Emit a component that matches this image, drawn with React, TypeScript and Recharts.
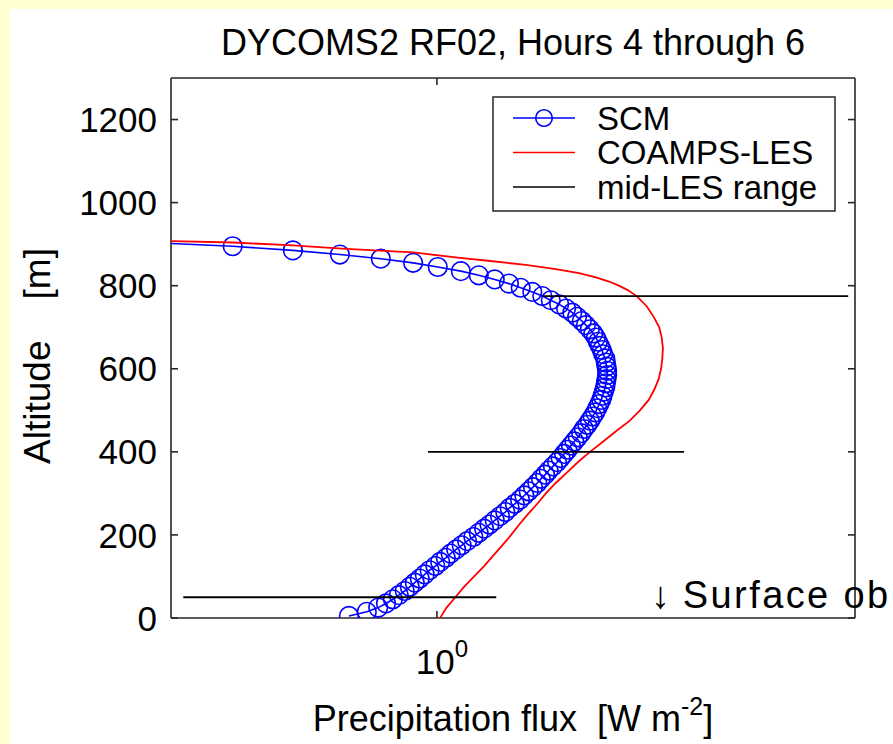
import React from 'react';
import { ScatterChart, Scatter, XAxis, YAxis, Legend, ReferenceDot } from 'recharts';

// ---------- data ----------
const scmAltitude = [
  5, 15, 25, 35, 45, 55, 65, 75, 85, 95,
  105, 115, 125, 135, 145, 155, 165, 175, 185, 195,
  205, 215, 225, 235, 245, 255, 265, 275, 285, 295,
  305, 315, 325, 335, 345, 355, 365, 375, 385, 395,
  405, 415, 425, 435, 445, 455, 465, 475, 485, 495,
  505, 515, 525, 535, 545, 555, 565, 575, 585, 595,
  605, 615, 625, 635, 645, 655, 665, 675, 685, 695,
  705, 715, 725, 735, 745, 755, 765, 775, 785, 795,
  805, 815, 825, 835, 845, 855, 865, 875, 885, 895, 905,
];
const scmFlux = [
  0.897, 0.917, 0.930, 0.939, 0.947, 0.954, 0.961, 0.967, 0.973, 0.979,
  0.985, 0.991, 0.998, 1.004, 1.011, 1.017, 1.024, 1.031, 1.038, 1.046,
  1.053, 1.060, 1.067, 1.074, 1.081, 1.088, 1.094, 1.101, 1.108, 1.114,
  1.120, 1.126, 1.132, 1.137, 1.143, 1.148, 1.154, 1.160, 1.165, 1.170,
  1.175, 1.180, 1.185, 1.190, 1.195, 1.199, 1.204, 1.208, 1.212, 1.216,
  1.219, 1.222, 1.225, 1.227, 1.229, 1.231, 1.232, 1.233, 1.234, 1.234,
  1.233, 1.232, 1.231, 1.228, 1.226, 1.223, 1.220, 1.217, 1.213, 1.208,
  1.202, 1.196, 1.189, 1.182, 1.173, 1.163, 1.151, 1.139, 1.125, 1.109,
  1.093, 1.074, 1.053, 1.030, 1.001, 0.971, 0.933, 0.887, 0.837, 0.777, 0.690,
];

const lesAltitude = [
  0, 10, 25, 50, 75, 100, 125, 150, 175, 200,
  225, 250, 275, 300, 325, 350, 375, 400, 425, 450,
  475, 500, 525, 550, 575, 600, 625, 650, 675, 700,
  725, 750, 775, 790, 800, 810, 820, 830, 840, 850,
  860, 867, 880, 889, 897, 904, 908,
];
const lesFlux = [
  1.004, 1.007, 1.012, 1.023, 1.034, 1.047, 1.060, 1.072, 1.084, 1.096,
  1.107, 1.119, 1.132, 1.144, 1.158, 1.174, 1.190, 1.208, 1.228, 1.248,
  1.269, 1.285, 1.299, 1.308, 1.315, 1.319, 1.321, 1.322, 1.320, 1.316,
  1.307, 1.296, 1.280, 1.265, 1.252, 1.237, 1.217, 1.192, 1.158, 1.116,
  1.065, 1.029, 0.971, 0.889, 0.837, 0.777, 0.710,
];

const midLesAltitude = [50, 400, 775];
const midLesLow = [0.731, 0.989, 1.140];
const midLesHigh = [1.076, 1.357, 1.662];

const yTicks = [0, 200, 400, 600, 800, 1000, 1200];
const xTicks = [1];
const xDomain = [0.72, 1.676];
const yDomain = [0, 1300];

const surfaceObFlux = 1.317;
const surfaceObAltitude = 40;

const titleText = 'DYCOMS2 RF02, Hours 4 through 6';
const legendItems = [
  { name: 'SCM', color: '#0000ff', marker: true },
  { name: 'COAMPS-LES', color: '#ff0000', marker: false },
  { name: 'mid-LES range', color: '#000000', marker: false },
];

// ---------- derived tables ----------
const scmData = scmAltitude.map((a, i) => ({ flux: scmFlux[i], alt: a }));
const lesData = lesAltitude.map((a, i) => ({ flux: lesFlux[i], alt: a }));
const midLesData = midLesAltitude.map((a, i) => [
  { flux: midLesLow[i], alt: a },
  { flux: midLesHigh[i], alt: a },
]);

const FONT = '"Liberation Sans", Arial, Helvetica, sans-serif';
const AXIS = '#262626';

const ScmMarker = (props: any) => (
  <circle cx={props.cx} cy={props.cy} r={9.3} fill="none" stroke="#0000ff" strokeWidth={1.6} />
);
const NoMarker = () => <g />;

const LeftTick = (props: any) => {
  const { x, y, payload } = props;
  return (
    <g>
      <line x1={x + 14} x2={x + 21} y1={y} y2={y} stroke={AXIS} strokeWidth={1.6} />
      <text x={x} y={y} dy="0.36em" textAnchor="end" fontSize={35} fontFamily={FONT} fill="#000">
        {payload.value}
      </text>
    </g>
  );
};
const RightTick = (props: any) => {
  const { x, y } = props;
  return <line x1={x} x2={x - 7} y1={y} y2={y} stroke={AXIS} strokeWidth={1.6} />;
};
const BottomTick = (props: any) => {
  const { x, y, payload } = props;
  const exp = Math.round(Math.log10(payload.value));
  return (
    <g>
      <line x1={x} x2={x} y1={y} y2={y - 7} stroke={AXIS} strokeWidth={1.6} />
      <text x={x + 5} y={y + 56} textAnchor="middle" fontSize={35} fontFamily={FONT} fill="#000">
        <tspan>10</tspan>
        <tspan dy={-17} fontSize={24}>{exp}</tspan>
      </text>
    </g>
  );
};
const TopTick = (props: any) => {
  const { x, y } = props;
  return <line x1={x} x2={x} y1={y} y2={y + 7} stroke={AXIS} strokeWidth={1.6} />;
};

const LegendBox = () => (
  <svg width={344} height={116} style={{ display: 'block' }}>
    <rect x={1} y={1} width={342} height={114} fill="#fff" stroke="#333" strokeWidth={1.6} />
    {legendItems.map((it, i) => {
      const cy = 22 + i * 34.5;
      return (
        <g key={it.name}>
          <line x1={21} x2={83} y1={cy} y2={cy} stroke={it.color} strokeWidth={1.6} />
          {it.marker && <circle cx={52} cy={cy} r={8.3} fill="none" stroke={it.color} strokeWidth={1.6} />}
          <text x={105} y={cy} dy="0.36em" fontSize={33} fontFamily={FONT} fill="#000">
            {it.name}
          </text>
        </g>
      );
    })}
  </svg>
);

export default function App() {
  return (
    <div>
      <style>{`body{margin:0;background:#ffffd2;}`}</style>
      <div style={{ marginLeft: 10, paddingTop: 9 }}>
        <div style={{ width: 883, height: 735, background: '#ffffff', position: 'relative' }}>
          <ScatterChart width={883} height={735} margin={{ top: 0, right: 0, bottom: 0, left: 0 }}>
            <XAxis
              xAxisId="b"
              type="number"
              dataKey="flux"
              scale="log"
              domain={xDomain}
              allowDataOverflow
              ticks={xTicks}
              tickSize={0}
              tickMargin={0}
              height={126}
              orientation="bottom"
              axisLine={{ stroke: AXIS, strokeWidth: 1.6 }}
              tick={<BottomTick />}
              tickLine={false}
              label={{
                content: (p: any) => {
                  const vb = p.viewBox;
                  return (
                    <text x={vb.x + vb.width / 2} y={vb.y + 113} textAnchor="middle" fontSize={36} fontFamily={FONT} fill="#000" style={{ whiteSpace: 'pre' }}>
                      <tspan>{'Precipitation flux  [W m'}</tspan>
                      <tspan dy={-16} fontSize={25}>-2</tspan>
                      <tspan dy={16}>]</tspan>
                    </text>
                  );
                },
              }}
            />
            <XAxis
              xAxisId="t"
              type="number"
              dataKey="flux"
              scale="log"
              domain={xDomain}
              allowDataOverflow
              ticks={xTicks}
              tickSize={0}
              tickMargin={0}
              height={69}
              orientation="top"
              axisLine={{ stroke: AXIS, strokeWidth: 1.6 }}
              tick={<TopTick />}
              tickLine={false}
              label={{
                content: (p: any) => {
                  const vb = p.viewBox;
                  return (
                    <text x={vb.x + vb.width / 2} y={vb.y + 46} textAnchor="middle" fontSize={36} fontFamily={FONT} fill="#000">
                      {titleText}
                    </text>
                  );
                },
              }}
            />
            <YAxis
              yAxisId="l"
              type="number"
              dataKey="alt"
              domain={yDomain}
              allowDataOverflow
              ticks={yTicks}
              tickSize={0}
              tickMargin={14}
              width={161}
              orientation="left"
              axisLine={{ stroke: AXIS, strokeWidth: 1.6 }}
              tick={<LeftTick />}
              tickLine={false}
              label={{
                content: (p: any) => {
                  const vb = p.viewBox;
                  const cx = vb.x + 40;
                  const cy = vb.y + vb.height / 2 + 8;
                  return (
                    <text x={cx} y={cy} textAnchor="middle" transform={`rotate(-90, ${cx}, ${cy})`} fontSize={37} fontFamily={FONT} fill="#000" style={{ whiteSpace: 'pre' }}>
                      {'Altitude    [m]'}
                    </text>
                  );
                },
              }}
            />
            <YAxis
              yAxisId="r"
              type="number"
              dataKey="alt"
              domain={yDomain}
              allowDataOverflow
              ticks={yTicks}
              tickSize={0}
              tickMargin={0}
              width={38}
              orientation="right"
              axisLine={{ stroke: AXIS, strokeWidth: 1.6 }}
              tick={<RightTick />}
              tickLine={false}
            />
            <Legend
              layout="horizontal"
              verticalAlign="middle"
              align="center"
              wrapperStyle={{ position: 'absolute', left: 482, top: 87, width: 344, height: 116 }}
              content={() => <LegendBox />}
            />
            <Scatter
              name="SCM"
              xAxisId="b"
              yAxisId="l"
              data={scmData}
              line={{ stroke: '#0000ff', strokeWidth: 1.6 }}
              lineType="joint"
              shape={<ScmMarker />}
              isAnimationActive={false}
            />
            <Scatter
              name="COAMPS-LES"
              xAxisId="b"
              yAxisId="l"
              data={lesData}
              line={{ stroke: '#ff0000', strokeWidth: 1.8 }}
              lineType="joint"
              shape={<NoMarker />}
              isAnimationActive={false}
            />
            {midLesData.map((seg, i) => (
              <Scatter
                key={i}
                name="mid-LES range"
                xAxisId="b"
                yAxisId="l"
                data={seg}
                line={{ stroke: '#000000', strokeWidth: 1.8 }}
                lineType="joint"
                shape={<NoMarker />}
                isAnimationActive={false}
              />
            ))}
            <ReferenceDot
              xAxisId="b"
              yAxisId="l"
              x={surfaceObFlux}
              y={surfaceObAltitude}
              r={0}
              fill="none"
              stroke="none"
              label={{
                content: (p: any) => {
                  const vb = p.viewBox;
                  return (
                    <text y={vb.y + 7} fontSize={38} fontFamily={FONT} fill="#000">
                      <tspan x={vb.x - 9}>{'\u2193'}</tspan>
                      <tspan x={vb.x + 23} letterSpacing={2.4}>{'Surface ob'}</tspan>
                    </text>
                  );
                },
              }}
            />
          </ScatterChart>
        </div>
      </div>
    </div>
  );
}
